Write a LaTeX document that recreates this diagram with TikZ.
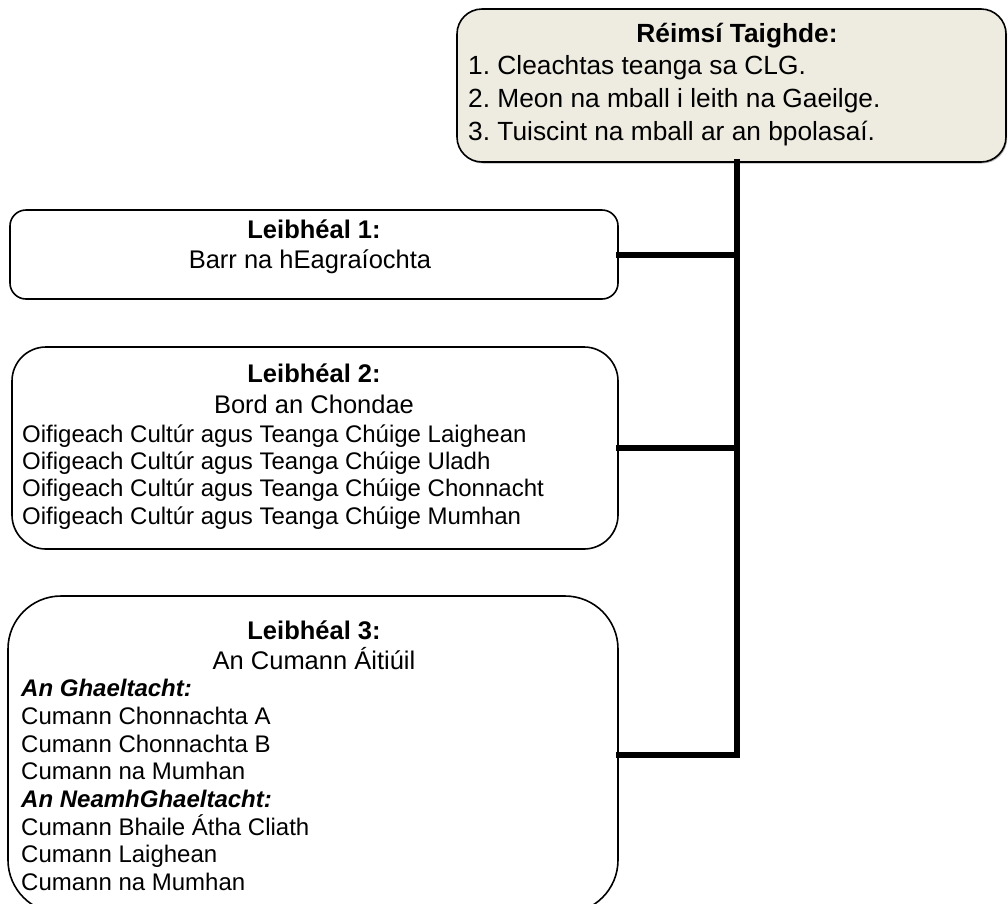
\documentclass[tikz,border=0pt]{standalone}
\usepackage{fontspec}
\setmainfont{Liberation Sans}
\usetikzlibrary{shadows}
\definecolor{tanbg}{HTML}{EEECE1}
\frenchspacing
\begin{document}
\begin{tikzpicture}[x=1pt,y=-1pt,
  box/.style={draw=black, line width=1.6pt, fill=white, inner sep=0pt},
  conn/.style={draw=black, line width=6pt, line join=miter, line cap=rect},
  txt/.style={inner sep=0pt, anchor=base},
  txtl/.style={inner sep=0pt, anchor=base west},
  big/.style={font=\fontsize{26.3}{32}\selectfont},
  bigb/.style={font=\fontsize{26.3}{32}\selectfont\bfseries},
  head/.style={font=\fontsize{25.5}{30}\selectfont},
  headb/.style={font=\fontsize{25.5}{30}\selectfont\bfseries},
  small/.style={font=\fontsize{24}{27}\selectfont},
  smallbi/.style={font=\fontsize{24}{27}\selectfont\bfseries\itshape}]
\useasboundingbox (0,0) rectangle (1008,903);
\begin{scope}
\clip (0,0) rectangle (1008,903);

% research areas box
\node[box, fill=tanbg, rounded corners=25pt, minimum width=549pt, minimum height=153pt,
  drop shadow={shadow xshift=1.2pt, shadow yshift=-1.5pt, fill=gray!80, opacity=0.7}]
  (top) at (731.5,85.5) {};
% level boxes
\node[box, rounded corners=16pt, minimum width=608pt, minimum height=89pt] (l1) at (314,254.5) {};
\node[box, rounded corners=34pt, minimum width=606pt, minimum height=202pt] (l2) at (315,448) {};
\node[box, rounded corners=53pt, minimum width=610pt, minimum height=317pt] (l3) at (313,754.5) {};

% connectors
\coordinate (spine) at (737,162);
\draw[conn] (spine) |- (l3.east);
\draw[conn] (l1.east) -- (l1.east -| spine);
\draw[conn] (l2.east) -- (l2.east -| spine);

% research areas text
\node[txt, bigb] (t0) at (737,42) {Réimsí Taighde:};
\node[txtl, big] (t1) at (468,74) {1. Cleachtas teanga sa CLG.};
\node[txtl, big] (t2) at (468,107) {2. Meon na mball i leith na Gaeilge.};
\node[txtl, big] (t3) at (468,140) {3. Tuiscint na mball ar an bpolasaí.};

% level 1
\node[txt, headb] (a1) at (314,238) {Leibhéal 1:};
\node[txt, head] (a2) at (310,268) {Barr na hEagraíochta};

% level 2
\node[txt, headb] (b1) at (314,382) {Leibhéal 2:};
\node[txt, head] (b2) at (314,413) {Bord an Chondae};
\node[txtl, small] (b3) at (22,442) {Oifigeach Cultúr agus Teanga Chúige Laighean};
\node[txtl, small] (b4) at (22,469.3) {Oifigeach Cultúr agus Teanga Chúige Uladh};
\node[txtl, small] (b5) at (22,496.6) {Oifigeach Cultúr agus Teanga Chúige Chonnacht};
\node[txtl, small] (b6) at (22,524) {Oifigeach Cultúr agus Teanga Chúige Mumhan};

% level 3
\node[txt, headb] (c1) at (314,639) {Leibhéal 3:};
\node[txt, head] (c2) at (314,669) {An Cumann Áitiúil};
\node[txtl, smallbi] (c3) at (21,696.6) {An Ghaeltacht:};
\node[txtl, small] (c4) at (21,724.3) {Cumann Chonnachta A};
\node[txtl, small] (c5) at (21,752) {Cumann Chonnachta B};
\node[txtl, small] (c6) at (21,779.7) {Cumann na Mumhan};
\node[txtl, smallbi] (c7) at (21,807.4) {An NeamhGhaeltacht:};
\node[txtl, small] (c8) at (21,835) {Cumann Bhaile Átha Cliath};
\node[txtl, small] (c9) at (21,862.8) {Cumann Laighean};
\node[txtl, small] (c10) at (21,890.5) {Cumann na Mumhan};
\end{scope}
\end{tikzpicture}
\end{document}
